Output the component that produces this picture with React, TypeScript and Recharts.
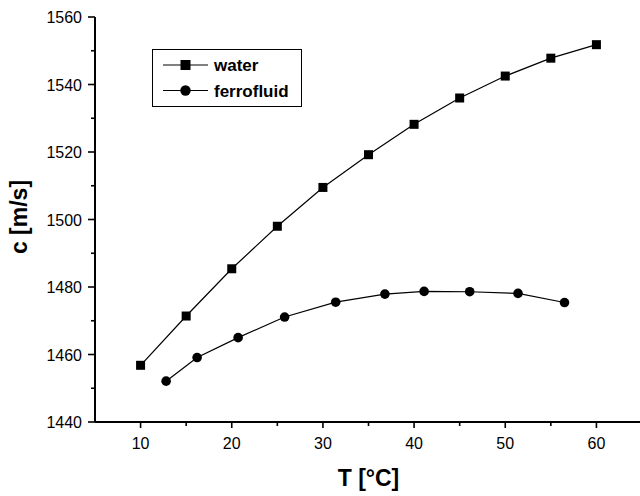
import React from 'react';
import { LineChart, Line, XAxis, YAxis, Legend, Label } from 'recharts';

const FONT = '"Liberation Sans", Arial, sans-serif';

// speed of sound vs temperature
const waterT = [10, 15, 20, 25, 30, 35, 40, 45, 50, 55, 60];
const waterC = [1456.8, 1471.4, 1485.4, 1498.0, 1509.5, 1519.2, 1528.2, 1536.0, 1542.5, 1547.8, 1551.8];

const ferroT = [12.8, 16.2, 20.7, 25.8, 31.4, 36.8, 41.1, 46.1, 51.4, 56.5];
const ferroC = [1452.1, 1459.1, 1465.0, 1471.1, 1475.5, 1477.9, 1478.7, 1478.6, 1478.1, 1475.4];

const xTicks = [10, 15, 20, 25, 30, 35, 40, 45, 50, 55, 60];
const yTicks = [1440, 1450, 1460, 1470, 1480, 1490, 1500, 1510, 1520, 1530, 1540, 1550, 1560];

const water = waterT.map((t, i) => ({ t, c: waterC[i] }));
const ferro = ferroT.map((t, i) => ({ t, c: ferroC[i] }));

const SquareDot = (props: any) => {
  const { cx, cy } = props;
  return <rect x={cx - 4.5} y={cy - 4.5} width={9} height={9} fill="#000" />;
};

const CircleDot = (props: any) => {
  const { cx, cy } = props;
  return <circle cx={cx} cy={cy} r={4.8} fill="#000" />;
};

const XTick = (props: any) => {
  const { x, y, payload } = props;
  const major = payload.value % 10 === 0;
  return (
    <g>
      <line x1={x} x2={x} y1={y} y2={y + (major ? 6 : 4)} stroke="#000" strokeWidth={1.6} />
      {major && (
        <text x={x} y={y + 27} textAnchor="middle" fontSize={16} fontFamily={FONT} fill="#000">
          {payload.value}
        </text>
      )}
    </g>
  );
};

const YTick = (props: any) => {
  const { x, y, payload } = props;
  const major = payload.value % 20 === 0;
  return (
    <g>
      <line x1={x - (major ? 7 : 4)} x2={x} y1={y} y2={y} stroke="#000" strokeWidth={1.6} />
      {major && (
        <text x={x - 13} y={y + 6} textAnchor="end" fontSize={16} fontFamily={FONT} fill="#000">
          {payload.value}
        </text>
      )}
    </g>
  );
};

const LegendBox = () => (
  <div style={{ width: 150, height: 58, border: '1px solid #000', boxSizing: 'border-box', background: '#fff' }}>
    <svg width={148} height={56}>
      <g>
        <line x1={10} x2={55} y1={15} y2={15} stroke="#000" strokeWidth={1} />
        <rect x={27.5} y={10} width={10} height={10} fill="#000" />
        <text x={61} y={21} fontSize={17} fontWeight="bold" fontFamily={FONT} fill="#000">water</text>
      </g>
      <g>
        <line x1={10} x2={55} y1={40.5} y2={40.5} stroke="#000" strokeWidth={1} />
        <circle cx={32.5} cy={40.5} r={5.2} fill="#000" />
        <text x={61} y={46.5} fontSize={17} fontWeight="bold" fontFamily={FONT} fill="#000">ferrofluid</text>
      </g>
    </svg>
  </div>
);

const YTitle = () => (
  <text
    x={27}
    y={217}
    transform="rotate(-90 27 217)"
    textAnchor="middle"
    fontSize={23}
    fontWeight="bold"
    fontFamily={FONT}
    fill="#000"
  >
    c [m/s]
  </text>
);

export default function App() {
  return (
    <div style={{ position: 'absolute', left: 0, top: 0, width: 640, height: 496, overflow: 'hidden', background: '#fff' }}>
      <LineChart width={660} height={496} margin={{ top: 17, right: 18, bottom: 0, left: 0 }}>
        <XAxis
          dataKey="t"
          type="number"
          domain={[5, 65]}
          ticks={xTicks}
          allowDataOverflow
          height={74}
          tickSize={0}
          tickMargin={0}
          tickLine={false}
          tick={<XTick />}
          axisLine={{ stroke: '#000', strokeWidth: 2 }}
        >
          <Label
            value="T [°C]"
            position="insideBottom"
            offset={10}
            style={{ fontSize: 23, fontWeight: 'bold', fontFamily: FONT, fill: '#000' }}
          />
        </XAxis>
        <YAxis
          dataKey="c"
          type="number"
          domain={[1440, 1560]}
          ticks={yTicks}
          allowDataOverflow
          width={95}
          tickSize={0}
          tickMargin={0}
          tickLine={false}
          tick={<YTick />}
          axisLine={{ stroke: '#000', strokeWidth: 2 }}
        >
          <Label content={<YTitle />} />
        </YAxis>
        <Legend
          layout="vertical"
          align="center"
          verticalAlign="middle"
          content={<LegendBox />}
          wrapperStyle={{ left: 152, top: 49, width: 150, height: 58 }}
        />
        <Line
          data={water}
          dataKey="c"
          name="water"
          type="linear"
          stroke="#000"
          strokeWidth={1.2}
          dot={<SquareDot />}
          isAnimationActive={false}
        />
        <Line
          data={ferro}
          dataKey="c"
          name="ferrofluid"
          type="linear"
          stroke="#000"
          strokeWidth={1.2}
          dot={<CircleDot />}
          isAnimationActive={false}
        />
      </LineChart>
    </div>
  );
}
